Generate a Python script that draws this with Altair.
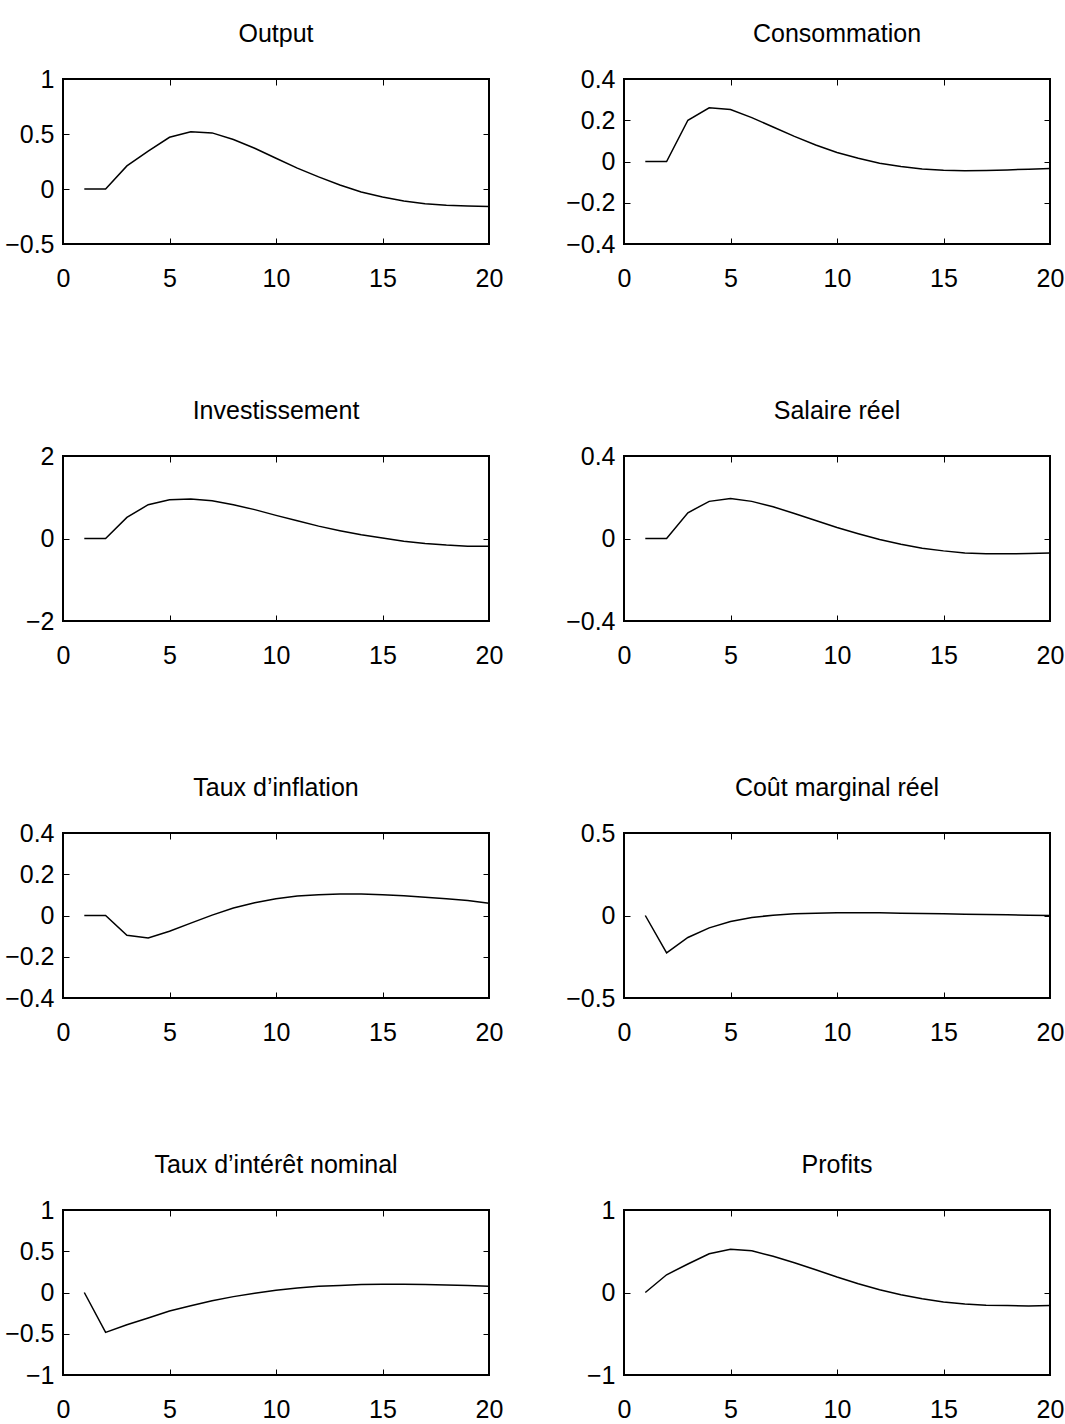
import altair as alt
import pandas as pd

# Impulse responses over 20 periods
periods = list(range(1, 21))

output = [0, 0, 0.21, 0.345, 0.47, 0.52, 0.51, 0.45, 0.37, 0.28, 0.19, 0.11,
          0.036, -0.027, -0.073, -0.11, -0.133, -0.148, -0.155, -0.158]
consommation = [0, 0, 0.2, 0.26, 0.252, 0.213, 0.167, 0.122, 0.08, 0.044, 0.016,
                -0.008, -0.024, -0.036, -0.042, -0.045, -0.044, -0.041, -0.037, -0.034]
investissement = [0, 0, 0.51, 0.82, 0.94, 0.96, 0.915, 0.82, 0.70, 0.56, 0.43, 0.30,
                  0.19, 0.09, 0.01, -0.065, -0.12, -0.16, -0.185, -0.19]
salaire_reel = [0, 0, 0.125, 0.18, 0.194, 0.18, 0.154, 0.121, 0.087, 0.053, 0.023,
                -0.005, -0.028, -0.047, -0.06, -0.07, -0.074, -0.074, -0.073, -0.07]
inflation = [0, 0, -0.096, -0.109, -0.076, -0.037, 0.002, 0.036, 0.062, 0.081, 0.094,
             0.101, 0.104, 0.104, 0.101, 0.096, 0.089, 0.081, 0.073, 0.059]
cout_marginal = [0, -0.226, -0.133, -0.075, -0.036, -0.012, 0.002, 0.01, 0.014, 0.016,
                 0.016, 0.016, 0.014, 0.012, 0.01, 0.008, 0.006, 0.004, 0.002, 0.0]
taux_interet = [0, -0.484, -0.39, -0.31, -0.224, -0.16, -0.10, -0.05, -0.01, 0.028,
                0.055, 0.075, 0.085, 0.097, 0.10, 0.10, 0.097, 0.092, 0.085, 0.077]
profits = [0, 0.215, 0.345, 0.47, 0.525, 0.505, 0.44, 0.36, 0.276, 0.187, 0.106, 0.033,
           -0.028, -0.077, -0.114, -0.138, -0.154, -0.159, -0.163, -0.159]

x_ticks = [0, 5, 10, 15, 20]

# title, series, y-domain, y tick values
panels = [
    ("Output", output, [-0.5, 1], [-0.5, 0, 0.5, 1]),
    ("Consommation", consommation, [-0.4, 0.4], [-0.4, -0.2, 0, 0.2, 0.4]),
    ("Investissement", investissement, [-2, 2], [-2, 0, 2]),
    ("Salaire réel", salaire_reel, [-0.4, 0.4], [-0.4, 0, 0.4]),
    ("Taux d’inflation", inflation, [-0.4, 0.4], [-0.4, -0.2, 0, 0.2, 0.4]),
    ("Coût marginal réel", cout_marginal, [-0.5, 0.5], [-0.5, 0, 0.5]),
    ("Taux d’intérêt nominal", taux_interet, [-1, 1], [-1, -0.5, 0, 0.5, 1]),
    ("Profits", profits, [-1, 1], [-1, 0, 1]),
]

W, H = 426, 165
TICK = 6
FONT = "Liberation Sans"
FS = 25


def panel(title, values, domain, yticks):
    df = pd.DataFrame({"t": periods, "v": values})
    return (
        alt.Chart(df, title=alt.TitleParams(title, font=FONT, fontSize=FS,
                                            fontWeight="normal", color="black",
                                            frame="group", baseline="alphabetic",
                                            offset=0))
        .mark_line(color="black", strokeWidth=1.5)
        .encode(
            x=alt.X("t:Q",
                    scale=alt.Scale(domain=[0, 20], nice=False, zero=False),
                    axis=alt.Axis(values=x_ticks, title=None, ticks=False, domain=False,
                                  labelFont=FONT, labelFontSize=FS, labelColor="black",
                                  labelPadding=22, labelFlush=False, labelOverlap=False,
                                  grid=True, gridColor="black", gridWidth=1,
                                  gridOpacity=1, gridDash=[TICK, H - 2 * TICK])),
            y=alt.Y("v:Q",
                    scale=alt.Scale(domain=domain, nice=False, zero=False),
                    axis=alt.Axis(values=yticks, title=None, ticks=False, domain=False,
                                  format="~g", labelFont=FONT, labelFontSize=FS,
                                  labelColor="black", labelPadding=9, labelFlush=False,
                                  labelOverlap=False, labelBaseline="middle",
                                  grid=True, gridColor="black", gridWidth=1,
                                  gridOpacity=1, gridDash=[TICK, W - 2 * TICK])),
        )
        .properties(width=W, height=H)
    )


chart = (
    alt.concat(*[panel(*p) for p in panels], columns=2,
               spacing={"row": 212, "column": 135}, bounds="flush")
    .properties(padding={"left": 3, "top": 21, "right": 0, "bottom": 0},
                background="white")
    .configure_view(stroke="black", strokeWidth=2)
)

chart.save("out.html", embed_options={"renderer": "svg", "actions": False})
